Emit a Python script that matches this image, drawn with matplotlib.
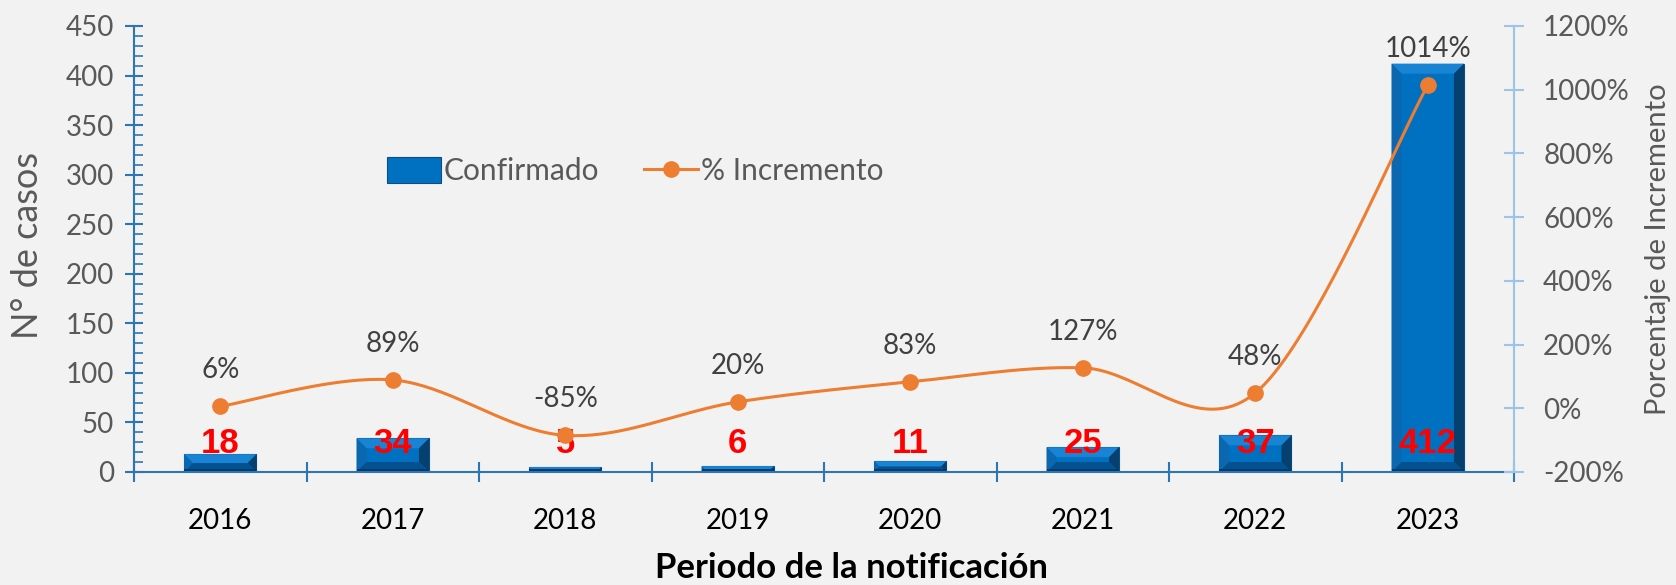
import matplotlib
matplotlib.use("Agg")
import matplotlib.pyplot as plt
from matplotlib.patches import Polygon, Patch
from matplotlib.lines import Line2D
from matplotlib.ticker import MultipleLocator, FixedLocator, NullFormatter, FixedFormatter
import numpy as np

# Casos confirmados por año y su incremento porcentual
years = ["2016", "2017", "2018", "2019", "2020", "2021", "2022", "2023"]
confirmed = [18, 34, 5, 6, 11, 25, 37, 412]
increment = [6, 89, -85, 20, 83, 127, 48, 1014]

BG = "#F2F2F2"
BAR = "#0070C0"
LINE = "#ED7D31"
AXIS_BLUE = "#2E75B6"
RIGHT_BLUE = "#9DC3E6"
TICK_GRAY = "#595959"
FONT = "Lato"
W, H = 1676, 585


def smooth_curve(x, y, steps=40):
    """Bezier smoothing with 1/6 control points (same as a spreadsheet 'smoothed line')."""
    x = np.asarray(x, float)
    y = np.asarray(y, float)
    px, py = [], []
    n = len(x)
    for i in range(n - 1):
        x0, y0 = x[max(i - 1, 0)], y[max(i - 1, 0)]
        x3, y3 = x[min(i + 2, n - 1)], y[min(i + 2, n - 1)]
        c1x = x[i] + (x[i + 1] - x0) / 6
        c1y = y[i] + (y[i + 1] - y0) / 6
        c2x = x[i + 1] - (x3 - x[i]) / 6
        c2y = y[i + 1] - (y3 - y[i]) / 6
        t = np.linspace(0, 1, steps)
        a, b, c, d = (1 - t) ** 3, 3 * (1 - t) ** 2 * t, 3 * (1 - t) * t ** 2, t ** 3
        px.extend(a * x[i] + b * c1x + c * c2x + d * x[i + 1])
        py.extend(a * y[i] + b * c1y + c * c2y + d * y[i + 1])
    return np.array(px), np.array(py)


fig = plt.figure(figsize=(W / 100, H / 100), dpi=100, facecolor=BG)
ax = fig.add_axes([134 / W, 1 - 472 / H, (1514 - 134) / W, (472 - 26) / H])
ax.set_facecolor(BG)

x = np.arange(len(years))
bar_width = 0.42
bars = ax.bar(x, confirmed, width=bar_width, color=BAR, edgecolor="#0B4D85",
              linewidth=0.8, zorder=2)

ax.set_xlim(-0.5, len(years) - 0.5)
ax.set_ylim(0, 450)

# bevel shading on each bar, computed from the bar geometry in pixels
fig.canvas.draw()
for rect in bars:
    (x0, y0), (x1, y1) = ax.transData.transform(
        [(rect.get_x(), 0), (rect.get_x() + rect.get_width(), rect.get_height())])
    b = min(10, (y1 - y0) / 2, (x1 - x0) / 2)
    faces = [
        ([(x0, y1), (x1, y1), (x1 - b, y1 - b), (x0 + b, y1 - b)], "#1A84D4"),
        ([(x0, y0), (x0, y1), (x0 + b, y1 - b), (x0 + b, y0 + b)], "#0A67B0"),
        ([(x1, y0), (x1, y1), (x1 - b, y1 - b), (x1 - b, y0 + b)], "#05406F"),
        ([(x0, y0), (x1, y0), (x1 - b, y0 + b), (x0 + b, y0 + b)], "#03518F"),
    ]
    for pts, col in faces:
        ax.add_patch(Polygon(pts, closed=True, transform=None, facecolor=col,
                             edgecolor="none", zorder=2.1))
    ax.add_patch(Polygon([(x0, y0), (x1, y0), (x1, y0 + 3), (x0, y0 + 3)], closed=True,
                         transform=None, facecolor="#003A6B", edgecolor="none", zorder=2.2))

# red value labels near the base of the bars
for xi, v in zip(x, confirmed):
    ax.text(xi, 29, str(v), ha="center", va="center", color="#FF0000",
            fontsize=25, fontweight="bold", family="Liberation Sans", zorder=5)

# left axis
for side in ["top", "right"]:
    ax.spines[side].set_visible(False)
ax.spines["left"].set_color(AXIS_BLUE)
ax.spines["bottom"].set_color(AXIS_BLUE)
ax.spines["left"].set_linewidth(1.5)
ax.spines["bottom"].set_linewidth(1.5)
ax.yaxis.set_major_locator(MultipleLocator(50))
ax.yaxis.set_minor_locator(MultipleLocator(10))
ax.tick_params(axis="y", which="major", direction="inout", length=13, width=1.5,
               color=AXIS_BLUE, labelsize=20, labelcolor=TICK_GRAY, pad=8)
ax.tick_params(axis="y", which="minor", direction="in", length=6.5, width=1.2,
               color=AXIS_BLUE)
for lab in ax.get_yticklabels():
    lab.set_family(FONT)

# category axis: ticks between categories, labels centred
ax.xaxis.set_major_locator(FixedLocator(np.arange(-0.5, len(years), 1.0)))
ax.xaxis.set_major_formatter(NullFormatter())
ax.xaxis.set_minor_locator(FixedLocator(x))
ax.xaxis.set_minor_formatter(FixedFormatter(years))
ax.tick_params(axis="x", which="major", direction="inout", length=14, width=1.5,
               color=AXIS_BLUE)
ax.tick_params(axis="x", which="minor", length=0, labelsize=20, labelcolor="black",
               pad=26)
for lab in ax.get_xticklabels(minor=True):
    lab.set_family(FONT)

# right axis with the percentage increase
ax2 = ax.twinx()
ax2.set_ylim(-200, 1200)
for side in ["top", "left", "bottom"]:
    ax2.spines[side].set_visible(False)
ax2.spines["right"].set_color(RIGHT_BLUE)
ax2.spines["right"].set_linewidth(1.5)
ax2.yaxis.set_major_locator(MultipleLocator(200))
ax2.yaxis.set_major_formatter(lambda v, p: f"{v:.0f}%")
ax2.tick_params(axis="y", direction="inout", length=14, width=1.5, color=RIGHT_BLUE,
                labelsize=20, labelcolor=TICK_GRAY, pad=14)
for lab in ax2.get_yticklabels():
    lab.set_family(FONT)

sx, sy = smooth_curve(x, increment)
ax2.plot(sx, sy, color=LINE, linewidth=2.2, zorder=3)
ax2.plot(x, increment, "o", color=LINE, markersize=11, zorder=4)
for xi, v in zip(x, increment):
    ax2.annotate(f"{v}%", (xi, v), xytext=(0, 26), textcoords="offset points",
                 ha="center", va="center", fontsize=20, color="#404040", family=FONT)

# axis titles
fig.text(28 / W, 1 - 245 / H, "N° de casos", rotation=90, ha="center", va="center",
         fontsize=26, color=TICK_GRAY, family=FONT)
fig.text(1658 / W, 1 - 249 / H, "Porcentaje de Incremento", rotation=90, ha="center",
         va="center", fontsize=21, color=TICK_GRAY, family=FONT)
fig.text(851 / W, 1 - 578 / H, "Periodo de la notificación", ha="center", va="baseline",
         fontsize=25, fontweight="bold", family=FONT, color="black")

# legend
handles = [
    Patch(facecolor=BAR, edgecolor="#0B4D85", linewidth=0.8, label="Confirmado"),
    Line2D([0], [0], color=LINE, linewidth=2.2, marker="o", markersize=11,
           label="% Incremento"),
]
fig.legend(handles=handles, loc="center left", bbox_to_anchor=(387 / W, 1 - 171 / H),
           ncol=2, frameon=False, borderpad=0, borderaxespad=0, handlelength=1.8,
           handleheight=1.0, handletextpad=0.1, columnspacing=1.5,
           prop={"family": FONT, "size": 21.5}, labelcolor=TICK_GRAY)

fig.savefig("out.png", dpi=100, facecolor=BG)
